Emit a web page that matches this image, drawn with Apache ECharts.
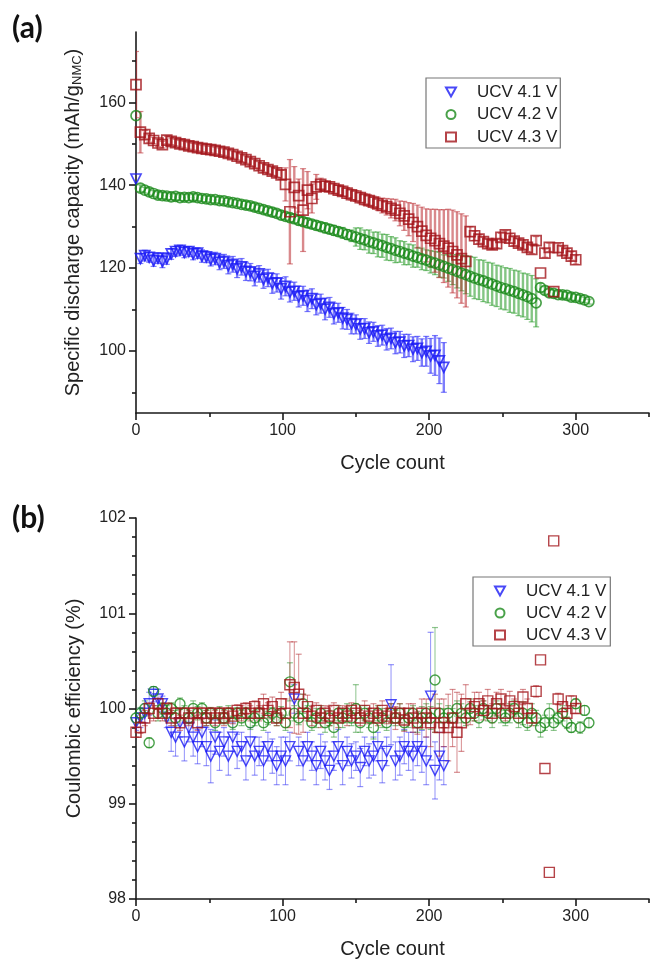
<!DOCTYPE html>
<html><head><meta charset="utf-8">
<script src="https://cdn.jsdelivr.net/npm/echarts@6/dist/echarts.min.js"></script>
<style>html,body{margin:0;padding:0;background:#fff}#c{width:650px;height:962px}</style>
</head><body><div id="c"></div>
<script>
// ---- shared x positions (cycle count) ----
const cycles = [0,3,6,9,12,15,18,21,24,27,30,33,36,39,42,45,48,51,54,57,60,63,66,69,72,75,78,81,84,87,90,93,96,99,102,105,108,111,114,117,120,123,126,129,132,135,138,141,144,147,150,153,156,159,162,165,168,171,174,177,180,183,186,189,192,195,198,201,204,207,210,213,216,219,222,225,228,231,234,237,240,243,246,249,252,255,258,261,264,267,270,273,276,279,282,285,288,291,294,297,300,303,306,309];
const seriesNames = ['UCV 4.1 V','UCV 4.2 V','UCV 4.3 V'];

// ---- panel (a): specific discharge capacity ----
const capBlue = [141.5,122.3,123.0,122.6,121.8,122.4,121.6,122.3,123.4,124.0,
 124.3,123.8,124.0,123.4,123.6,122.9,122.7,122.1,122.3,121.4,
 121.6,120.6,120.9,119.8,120.3,119.2,119.0,118.0,118.6,117.3,
 117.6,116.3,116.4,115.0,115.6,114.2,114.4,113.1,113.3,112.1,
 112.6,111.2,111.4,110.1,110.5,109.0,109.2,107.9,107.6,106.6,
 106.4,105.3,105.4,104.4,104.6,103.6,103.8,102.8,103.0,102.0,
 102.1,101.2,101.3,100.4,100.6,99.6,99.9,98.8,98.9,97.6,
 96.0];
const capBlueErr = [0,1.2,1.3,1.2,1.4,1.3,1.5,1.4,1.3,1.2,
 1.2,1.3,1.2,1.4,1.3,1.5,1.4,1.6,1.5,1.8,
 1.7,2.0,1.9,2.1,2.0,2.2,2.1,2.3,2.0,2.2,
 2.1,2.4,2.2,2.5,2.3,2.4,2.2,2.5,2.3,2.6,
 2.4,2.5,2.3,2.6,2.4,2.5,2.3,2.6,2.4,2.5,
 2.3,2.5,2.4,2.6,2.3,2.5,2.4,2.6,2.5,2.7,
 2.6,2.8,2.7,3.0,2.9,3.3,3.6,4.2,4.8,5.5,
 6.0];
const capGreen = [156.8,139.3,138.8,138.4,138.0,137.6,137.5,137.4,137.2,137.3,
 137.0,137.1,137.0,137.2,137.0,136.8,136.7,136.5,136.5,136.3,
 136.2,136.0,135.8,135.6,135.4,135.2,135.0,134.7,134.4,134.1,
 133.8,133.5,133.2,132.8,132.5,132.2,131.9,131.5,131.2,130.9,
 130.6,130.3,130.0,129.7,129.4,129.1,128.8,128.5,128.1,127.8,
 127.5,127.1,126.8,126.4,126.1,125.7,125.4,125.0,124.7,124.3,
 124.0,123.6,123.3,122.9,122.6,122.2,121.9,121.5,121.2,120.8,
 120.4,120.0,119.6,119.2,118.8,118.4,118.0,117.6,117.2,116.9,
 116.5,116.1,115.7,115.3,115.0,114.6,114.3,113.9,113.5,113.1,
 112.6,111.6,115.3,114.6,114.0,113.9,113.6,113.5,113.4,113.0,
 112.9,112.6,112.3,111.9];
const capGreenErr = [0,0.8,0.7,0.8,0.7,0.8,0.7,0.8,0.7,0.8,
 0.7,0.8,0.7,0.8,0.7,0.8,0.7,0.8,0.7,0.8,
 0.7,0.8,0.7,0.8,0.8,0.9,0.8,0.9,0.8,0.9,
 0.9,1.0,0.9,1.0,0.9,1.0,1.0,1.1,1.0,1.1,
 1.0,1.1,1.0,1.2,1.1,1.2,1.1,1.3,1.2,1.4,
 2.2,2.6,2.4,2.8,2.6,3.0,2.8,3.1,2.9,3.0,
 2.6,2.8,2.5,2.7,2.4,2.6,2.5,2.7,2.8,3.0,
 2.8,3.2,3.6,4.0,4.3,4.6,4.8,5.0,4.8,5.0,
 4.9,5.1,5.0,5.2,5.1,5.3,5.2,5.4,5.3,5.5,
 5.6,5.8,1.0,0.9,0.8,0.8,0.7,0.8,0.7,0.8,
 0.7,0.8,0.7,0.6];
const capRed = [164.3,152.8,152.2,151.3,150.8,150.2,149.8,150.9,150.6,150.3,
 150.0,149.8,149.5,149.3,149.1,148.9,148.7,148.6,148.4,148.2,
 148.0,147.7,147.4,147.0,146.6,146.2,145.7,145.2,144.7,144.2,
 143.8,143.4,143.0,142.5,140.2,133.6,139.5,137.5,134.0,138.8,
 136.8,139.6,140.2,139.8,139.6,139.2,138.8,138.5,138.1,137.7,
 137.4,137.0,136.6,136.3,135.9,135.5,135.1,134.8,134.4,134.0,
 133.2,132.6,131.8,131.0,130.0,128.9,127.9,127.2,126.6,125.9,
 125.3,124.8,124.0,123.2,122.3,121.6,128.8,127.8,127.0,126.4,
 125.9,125.6,125.9,127.4,128.0,127.2,126.5,126.0,125.6,125.0,
 124.5,126.6,118.8,123.6,125.0,114.3,124.9,124.2,123.6,122.9,
 122.0];
const capRedErr = [8.0,5.0,1.0,0.9,0.8,0.9,0.8,0.9,0.8,0.8,
 0.8,0.8,0.8,0.8,0.8,0.8,0.8,0.8,0.8,0.8,
 0.8,0.9,0.9,0.9,0.9,0.9,1.0,1.0,1.0,1.0,
 1.0,1.0,1.0,1.1,4.0,12.6,5.0,4.0,10.0,4.5,
 3.5,3.0,1.5,1.2,1.2,1.2,1.2,1.2,1.3,1.3,
 1.3,1.3,1.4,1.4,1.5,1.6,1.8,2.0,2.3,2.6,
 3.0,3.5,4.0,4.6,5.2,5.8,6.4,7.0,7.6,8.2,
 8.8,9.4,10.0,10.4,10.8,11.0,1.2,1.1,1.0,1.0,
 1.0,1.0,1.0,1.0,1.0,1.0,1.0,1.0,1.0,1.0,
 1.0,1.0,0,1.0,1.0,0,1.0,1.0,1.0,1.0,
 1.0];

// ---- panel (b): coulombic efficiency ----
const ceBlue = [99.85,99.9,99.95,100.05,100.15,100.1,100.05,99.9,99.75,99.7,
 99.85,99.65,99.8,99.7,99.6,99.75,99.6,99.5,99.7,99.55,
 99.65,99.5,99.7,99.55,99.6,99.45,99.65,99.5,99.55,99.45,
 99.6,99.5,99.4,99.5,99.45,99.6,100.1,99.55,99.45,99.6,
 99.5,99.4,99.55,99.45,99.35,99.5,99.6,99.4,99.55,99.45,
 99.5,99.38,99.55,99.45,99.5,99.6,99.4,99.55,100.04,99.45,
 99.5,99.6,99.55,99.5,99.6,99.55,99.45,100.13,99.35,99.5,
 99.4];
const ceBlueErr = [0.08,0.1,0.1,0.12,0.08,0.1,0.08,0.1,0.2,0.2,
 0.15,0.2,0.15,0.2,0.18,0.15,0.2,0.28,0.18,0.2,
 0.15,0.2,0.15,0.18,0.15,0.2,0.15,0.2,0.15,0.2,
 0.15,0.18,0.2,0.2,0.25,0.15,0.15,0.15,0.2,0.15,
 0.15,0.2,0.18,0.2,0.2,0.15,0.18,0.2,0.15,0.18,
 0.15,0.2,0.15,0.18,0.2,0.15,0.18,0.15,0.42,0.2,
 0.2,0.18,0.2,0.25,0.2,0.22,0.25,0.67,0.3,0.25,
 0.2];
const ceGreen = [99.9,99.95,100.0,99.64,100.18,99.95,100.0,99.95,100.0,99.9,
 100.05,99.95,99.9,100.0,99.95,100.0,99.9,99.95,99.85,99.95,
 99.9,99.95,99.85,99.95,99.9,99.95,99.85,99.9,99.95,99.85,
 99.9,99.95,99.9,99.95,99.85,100.28,99.95,99.9,100.05,99.95,
 99.85,99.9,99.95,99.85,99.9,99.8,99.95,99.9,99.95,99.9,
 100.0,99.85,99.95,99.9,99.8,99.95,99.9,99.85,99.95,99.9,
 99.95,99.85,99.9,99.95,99.85,99.9,99.95,99.9,100.3,99.95,
 99.9,99.95,99.9,100.0,99.95,99.9,100.0,99.95,99.9,100.0,
 99.95,99.9,100.0,99.95,99.9,99.95,100.0,99.9,99.95,99.85,
 99.95,99.9,99.8,99.85,99.95,99.85,99.9,99.95,99.85,99.8,
 100.05,99.8,99.98,99.85];
const ceGreenErr = [0.05,0.06,0.08,0.05,0.05,0.08,0.06,0.08,0.06,0.08,
 0.06,0.08,0.06,0.08,0.07,0.06,0.08,0.06,0.08,0.07,
 0.06,0.08,0.07,0.06,0.08,0.06,0.07,0.08,0.06,0.08,
 0.07,0.06,0.08,0.07,0.08,0.2,0.08,0.07,0.1,0.08,
 0.08,0.1,0.08,0.1,0.08,0.1,0.08,0.1,0.1,0.08,
 0.25,0.1,0.08,0.1,0.12,0.08,0.1,0.08,0.1,0.08,
 0.1,0.08,0.1,0.08,0.1,0.12,0.1,0.12,0.55,0.1,
 0.1,0.08,0.1,0.08,0.1,0.08,0.1,0.08,0.1,0.08,
 0.08,0.1,0.08,0.1,0.08,0.1,0.08,0.1,0.12,0.08,
 0.1,0.08,0.1,0.08,0.1,0.08,0.06,0.08,0.06,0.05,
 0.05,0.06,0.05,0.05];
const ceRed = [99.75,99.8,99.9,100.0,99.95,100.05,99.95,100.0,99.9,99.95,
 99.85,99.95,99.9,99.95,99.85,99.95,99.9,99.95,99.9,99.95,
 99.9,99.95,99.92,99.98,99.95,100.0,99.95,100.02,99.95,100.05,
 99.98,100.02,99.9,100.05,99.95,100.25,100.22,100.15,99.95,100.02,
 99.92,99.98,99.9,99.95,99.92,99.98,99.9,99.95,99.92,99.98,
 99.95,99.9,99.98,99.92,99.95,99.9,99.98,99.92,99.95,99.9,
 99.95,99.88,99.95,99.9,99.85,99.95,99.9,99.85,99.95,99.8,
 99.85,99.8,99.9,99.75,99.85,100.05,99.95,100.02,100.05,99.98,
 100.08,99.95,100.05,100.1,99.95,100.08,100.02,99.95,100.12,100.0,
 99.9,100.18,100.51,99.37,98.28,101.76,100.1,100.02,99.95,100.08,
 100.0];
const ceRedErr = [0.05,0.06,0.08,0.06,0.08,0.06,0.08,0.06,0.08,0.06,
 0.08,0.06,0.08,0.06,0.08,0.06,0.08,0.06,0.08,0.06,
 0.08,0.06,0.08,0.06,0.08,0.06,0.08,0.06,0.08,0.1,
 0.08,0.1,0.08,0.12,0.15,0.45,0.48,0.42,0.2,0.12,
 0.1,0.08,0.1,0.08,0.1,0.08,0.1,0.08,0.1,0.08,
 0.1,0.08,0.1,0.08,0.1,0.08,0.1,0.08,0.1,0.12,
 0.1,0.12,0.1,0.15,0.12,0.15,0.2,0.25,0.2,0.3,
 0.25,0.35,0.3,0.42,0.3,0.2,0.12,0.15,0.12,0.1,
 0.12,0.1,0.12,0.1,0.08,0.1,0.08,0.1,0.08,0.1,
 0.08,0.06,0,0,0,0,0.06,0.05,0.05,0.05,
 0.05];

// ---- axis ticks ----
const xMajor = [0,100,200,300];
const xMinor = [50,150,250,350];
const yMajorA = [100,120,140,160];
const yMinorA = [90,110,130,150,170];

// ---- styling ----
const FONT = '"Liberation Sans", Arial, sans-serif';
const COL = ['#1a1af5', '#1c8a1c', '#a3141a'];
const ECOL_A = ['rgba(40,40,250,0.6)', 'rgba(30,150,30,0.55)', 'rgba(185,40,45,0.55)'];
const ECOL_B = ['rgba(40,40,245,0.5)', 'rgba(30,140,30,0.5)', 'rgba(175,30,35,0.5)'];
const SYM = ['triangle', 'circle', 'rect'];
const ROT = [180, 0, 0];
const AX = '#1a1a1a';
const TXT = '#222';

function pts(vals){ return vals.map((v,i) => [cycles[i], v]); }
function errs(vals, e){ return vals.map((v,i) => [cycles[i], v - e[i], v + e[i]]); }
function errRenderer(color, lw){
  return function(params, api){
    const x = api.value(0), lo = api.value(1), hi = api.value(2);
    if (!(hi > lo)) return null;
    const a = api.coord([x, hi]), b = api.coord([x, lo]);
    const w = 3, st = {stroke: color, lineWidth: lw, fill: null};
    const cs = {stroke: color, lineWidth: 1.2, fill: null};
    return {type:'group', children:[
      {type:'line', shape:{x1:a[0],y1:a[1],x2:b[0],y2:b[1]}, style:st},
      {type:'line', shape:{x1:a[0]-w,y1:a[1],x2:a[0]+w,y2:a[1]}, style:cs},
      {type:'line', shape:{x1:b[0]-w,y1:b[1],x2:b[0]+w,y2:b[1]}, style:cs}
    ]};
  };
}
function makeSeries(k, vals, e, xi, yi, ecol, lw, size, bw){
  return [
    {type:'custom', name:'err'+k+'_'+xi, xAxisIndex:xi, yAxisIndex:yi, data:errs(vals,e),
     renderItem:errRenderer(ecol, lw), encode:{x:0, y:[1,2]}, silent:true, clip:true},
    {type:'scatter', name:seriesNames[k], xAxisIndex:xi, yAxisIndex:yi, data:pts(vals),
     symbol:SYM[k], symbolRotate:ROT[k], symbolSize:size,
     itemStyle:{color:'rgba(255,255,255,0)', borderColor:COL[k], borderWidth:bw}}
  ];
}

const lineSt = {color: AX, width: 1.6};
function xAxes(g, gap){
  return [
    {gridIndex:g, type:'value', min:0, max:350, position:'bottom',
     axisLine:{show:true, onZero:false, lineStyle:lineSt},
     axisTick:{show:true, customValues:xMajor, length:7, lineStyle:lineSt},
     axisLabel:{show:true, customValues:xMajor, fontSize:16, color:TXT, fontFamily:FONT, margin:10},
     splitLine:{show:false},
     name:'Cycle count', nameLocation:'middle', nameGap:gap,
     nameTextStyle:{fontSize:20, color:TXT, fontFamily:FONT}},
    {gridIndex:g, type:'value', min:0, max:350, position:'bottom',
     axisLine:{show:false, onZero:false},
     axisTick:{show:true, customValues:xMinor, length:4, lineStyle:lineSt},
     axisLabel:{show:false}, splitLine:{show:false}}
  ];
}
const legendData = [
  {name:seriesNames[0], icon:'path://M0,0L10,0L5,9Z'},
  {name:seriesNames[1]},
  {name:seriesNames[2]}
];

const option = {
  animation: false,
  backgroundColor: '#fff',
  textStyle: {fontFamily: FONT},
  grid: [
    {left:136, right:1, top:32, height:381},
    {left:136, right:1, top:518, height:381}
  ],
  xAxis: [...xAxes(0, 40), ...xAxes(1, 40)],
  yAxis: [
    {gridIndex:0, type:'value', min:85, max:177, position:'left',
     axisLine:{show:true, onZero:false, lineStyle:lineSt},
     axisTick:{show:true, customValues:yMajorA, length:7, lineStyle:lineSt},
     axisLabel:{show:true, customValues:yMajorA, fontSize:16, color:TXT, fontFamily:FONT, margin:10},
     splitLine:{show:false},
     name:'Specific discharge capacity (mAh/g{s|NMC})', nameLocation:'middle', nameGap:52,
     nameTextStyle:{fontSize:20, color:TXT, fontFamily:FONT,
       rich:{s:{fontSize:13, color:TXT, fontFamily:FONT, padding:[9,0,0,0]}}}},
    {gridIndex:0, type:'value', min:85, max:177, position:'left',
     axisLine:{show:false, onZero:false},
     axisTick:{show:true, customValues:yMinorA, length:4, lineStyle:lineSt},
     axisLabel:{show:false}, splitLine:{show:false}},
    {gridIndex:1, type:'value', min:98, max:102, interval:1, position:'left',
     axisLine:{show:true, onZero:false, lineStyle:lineSt},
     axisTick:{show:true, length:7, lineStyle:lineSt},
     minorTick:{show:true, splitNumber:5, length:4, lineStyle:lineSt},
     axisLabel:{show:true, fontSize:16, color:TXT, fontFamily:FONT, margin:10},
     splitLine:{show:false}, minorSplitLine:{show:false},
     name:'Coulombic efficiency (%)', nameLocation:'middle', nameGap:52,
     nameTextStyle:{fontSize:20, color:TXT, fontFamily:FONT}}
  ],
  legend: [
    {data:legendData, left:426, top:78, orient:'vertical', itemWidth:10, itemHeight:9, itemGap:4.5,
     padding:[5,3,2,19], borderColor:'#777', borderWidth:1.2, selectedMode:false,
     textStyle:{fontSize:17, color:TXT, fontFamily:FONT, lineHeight:18, padding:[0,0,0,16]}},
    {data:legendData, left:473, top:577, orient:'vertical', itemWidth:10, itemHeight:9, itemGap:4,
     padding:[5,4,2,21], borderColor:'#777', borderWidth:1.2, selectedMode:false,
     textStyle:{fontSize:17, color:TXT, fontFamily:FONT, lineHeight:18, padding:[0,0,0,16]}}
  ],
  graphic: [
    {type:'text', left:12, top:13, style:{text:'(a)', font:'bold 30px Lato, "Open Sans", sans-serif', fill:'#111'}},
    {type:'text', left:12, top:503, style:{text:'(b)', font:'bold 30px Lato, "Open Sans", sans-serif', fill:'#111'}}
  ],
  series: [
    ...makeSeries(0, capBlue, capBlueErr, 0, 0, ECOL_A[0], 2.4, 10, 1.7),
    ...makeSeries(1, capGreen, capGreenErr, 0, 0, ECOL_A[1], 2.4, 10, 1.7),
    ...makeSeries(2, capRed, capRedErr, 0, 0, ECOL_A[2], 2.4, 10, 1.7),
    ...makeSeries(0, ceBlue, ceBlueErr, 2, 2, ECOL_B[0], 1, 10, 1.4),
    ...makeSeries(1, ceGreen, ceGreenErr, 2, 2, ECOL_B[1], 1, 10, 1.4),
    ...makeSeries(2, ceRed, ceRedErr, 2, 2, ECOL_B[2], 1, 10, 1.4)
  ]
};
const chart = echarts.init(document.getElementById('c'), null, {renderer:'canvas'});
chart.setOption(option);
</script></body></html>
